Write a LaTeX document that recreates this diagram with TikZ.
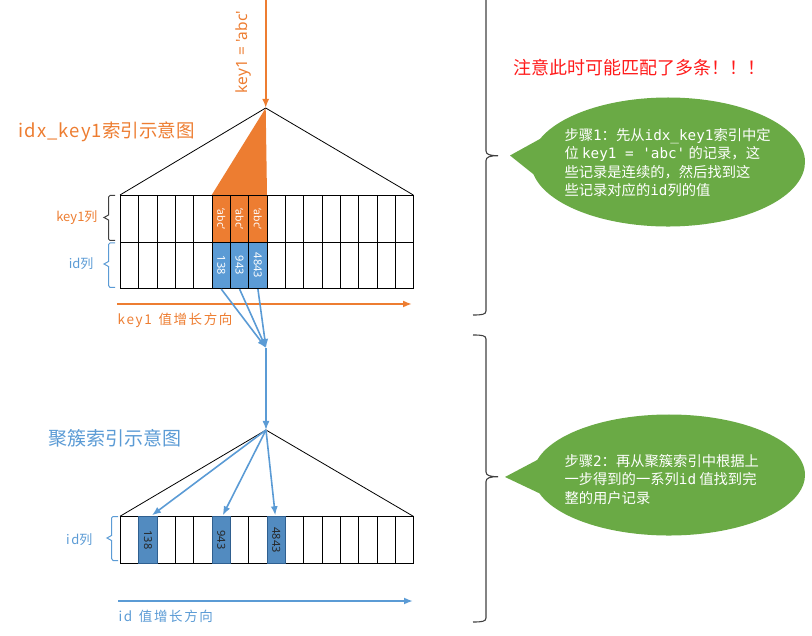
\documentclass[tikz,border=0pt]{standalone}
\usepackage{fontspec}
\setmainfont{Noto Sans CJK SC}
\newfontfamily\latinf{Noto Sans}
\newfontfamily\monof{DejaVu Sans Mono}
\usetikzlibrary{arrows.meta,shapes.callouts,calc}
\definecolor{korange}{HTML}{ED7D31}
\definecolor{kblue}{HTML}{5B9BD5}
\definecolor{kbluedark}{HTML}{2F5F8F}
\definecolor{kgreen}{HTML}{6AAA45}
\definecolor{kred}{HTML}{FF1A1A}
\newcommand{\ksp}{\kern1.6pt}
\begin{document}
\begin{tikzpicture}[x=1pt,y=-1pt,
  cell/.style={draw=black, line width=0.9pt, minimum width=18.33pt, minimum height=46.6pt, inner sep=0pt, anchor=north west},
  tri/.style={draw=black, line width=0.8pt},
  oarrow/.style={draw=korange, line width=1.8pt, -{Latex[length=9pt,width=7pt]}},
  barrow/.style={draw=kblue, line width=1.8pt, -{Latex[length=9pt,width=7pt]}},
  bubble/.style={ellipse callout, fill=kgreen, draw=none, callout pointer arc=32},
  btext/.style={text=white, align=left, anchor=west, font=\fontsize{14.3}{18.3}\selectfont},
  brk/.style={line width=1pt, draw=black!75}
]
\useasboundingbox (0,0) rectangle (812,636);

% ---------- top part ----------
\coordinate (apex1) at (265.7,108);
\coordinate (topin) at (265.7,-2);
\fill[korange] (apex1) -- (211.7,195) -- (267,195) -- cycle;
\draw[tri] (120,195) -- (apex1) -- (413.3,195);
\draw[oarrow] (topin) -- (apex1);
\node[rotate=90, text=korange, font=\fontsize{15.5}{15.5}\latinf] (klabel) at (243,52) {key1 = 'abc'};

\foreach \i in {0,...,15} {
  \node[cell] (t\i) at ({120+18.33*\i},195) {};
  \node[cell] (u\i) at ({120+18.33*\i},241.6) {};
  \node[cell] (b\i) at ({120+18.33*\i},516.3) {};
}
\foreach \i in {5,6,7} {
  \node[cell, fill=korange] at (t\i.north west) {};
  \node[rotate=-90, text=white, font=\fontsize{10.5}{10.5}\latinf] at (t\i) {‘abc’};
  \node[cell, fill=kblue] at (u\i.north west) {};
}
\node[rotate=-90, text=white, font=\fontsize{11}{11}\latinf] at (u5) {138};
\node[rotate=-90, text=white, font=\fontsize{11}{11}\latinf] at (u6) {943};
\node[rotate=-90, text=white, font=\fontsize{11}{11}\latinf] at (u7) {4843};

\node[anchor=west, text=korange, font=\fontsize{18.5}{18.5}\selectfont] (title1) at (15,132) {i\kern1pt d\kern1pt x\kern1pt \_\kern1pt k\kern1pt e\kern1pt y\kern1pt 1索引示意图};

% small braces
\draw[brk] (115,195.5) -- (110,195.5) -- (108.5,197) -- (108.5,215) -- (104,217.5) -- (108.5,220) -- (108.5,239) -- (110,240.5) -- (115,240.5);
\draw[line width=1pt, draw=kblue] (115,243) -- (110,243) -- (108.5,244.5) -- (108.5,261.5) -- (104,264) -- (108.5,266.5) -- (108.5,285.5) -- (110,287.5) -- (115,287.5);
\node[anchor=east, text=korange, font=\fontsize{13}{13}\selectfont] (k1col) at (101,217.5) {key1列};
\node[anchor=east, text=kblue, font=\fontsize{13}{13}\selectfont] (idcol1) at (97,264) {id列};

\coordinate (oa1) at (117,304);
\coordinate (oa2) at (412,304);
\draw[oarrow, line width=2pt] (oa1) -- (oa2);
\node[anchor=west, text=korange, font=\fontsize{13.5}{13.5}\selectfont] (odir) at (114,320) {k\ksp e\ksp y\ksp 1\enspace 值\ksp 增\ksp 长\ksp 方\ksp 向};

% ---------- connectors ----------
\coordinate (conv) at (266,348);
\coordinate (apex2) at (266,430);
\draw[barrow, line width=1.6pt] (u5.south) -- (conv);
\draw[barrow, line width=1.6pt] (u6.south) -- (conv);
\draw[barrow, line width=1.6pt] (u7.south) -- (conv);
\draw[barrow, line width=1.6pt] (conv) -- (apex2);

% ---------- bottom part ----------
\node[anchor=west, text=kblue, font=\fontsize{19}{19}\selectfont] (title2) at (45,438) {聚簇索引示意图};
\draw[tri] (120,516.3) -- (apex2) -- (413.3,516.3);
\foreach \i in {1,5,8} {
  \node[cell, fill=kblue!90!black, draw=kbluedark] at (b\i.north west) {};
}
\node[rotate=-90, text=black!85, font=\fontsize{11}{11}\latinf] at (b1) {138};
\node[rotate=-90, text=black!85, font=\fontsize{11}{11}\latinf] at (b5) {943};
\node[rotate=-90, text=black!85, font=\fontsize{11}{11}\latinf] at (b8) {4843};
\draw[barrow, line width=1.6pt] (apex2) -- ($(b1.north)+(4,-1)$);
\draw[barrow, line width=1.6pt] (apex2) -- ($(b5.north)+(1.5,-1)$);
\draw[barrow, line width=1.6pt] (apex2) -- ($(b8.north)+(-1,-1)$);

\draw[line width=1pt, draw=kblue] (118,516.5) -- (113,516.5) -- (111.5,518) -- (111.5,535.5) -- (107,538) -- (111.5,540.5) -- (111.5,558.5) -- (113,560.5) -- (118,560.5);
\node[anchor=east, text=kblue, font=\fontsize{13}{13}\selectfont] (idcol2) at (96,540) {i\ksp d列};

\coordinate (ba1) at (118,601);
\coordinate (ba2) at (413,601);
\draw[barrow, line width=2pt] (ba1) -- (ba2);
\node[anchor=west, text=kblue, font=\fontsize{13.5}{13.5}\selectfont] (bdir) at (115,616) {i\ksp d\enspace 值\ksp 增\ksp 长\ksp 方\ksp 向};

% ---------- right side ----------
\draw[brk, line width=1.1pt] (486,-5) -- (486,151) .. controls (486,154.5) and (490,155.7) .. (498,155.7)
  .. controls (490,155.7) and (486,157) .. (486,160.5) -- (486,311) .. controls (486,314.5) and (482,315) .. (473,315);
\draw[brk, line width=1.1pt] (473,335) .. controls (482,335) and (486,335.5) .. (486,339) -- (486,472)
  .. controls (486,475.5) and (490,476.7) .. (498,476.7) .. controls (490,476.7) and (486,478) .. (486,481.5)
  -- (486,618) .. controls (486,621.5) and (482,622) .. (473,622);

\node[anchor=west, text=kred, font=\fontsize{18}{18}\selectfont] (note) at (510,68) {注意此时可能匹配了多条！！！};

\node[bubble, minimum width=274pt, minimum height=129pt, callout absolute pointer={(510,155.5)}] (bub1) at (668,162) {};
\node[btext] (bt1) at (561,162.5) {步骤{\monof 1}：先从{\monof idx\_key1}索引中定\\位 {\monof key1 = 'abc'} 的记录，这\\些记录是连续的，然后找到这\\些记录对应的{\monof id}列的值};

\node[bubble, minimum width=272pt, minimum height=121pt, callout absolute pointer={(505,477)}] (bub2) at (669,475) {};
\node[btext] (bt2) at (561,479.5) {步骤{\monof 2}：再从聚簇索引中根据上\\一步得到的一系列{\monof id} 值找到完\\整的用户记录};
\end{tikzpicture}
\end{document}
